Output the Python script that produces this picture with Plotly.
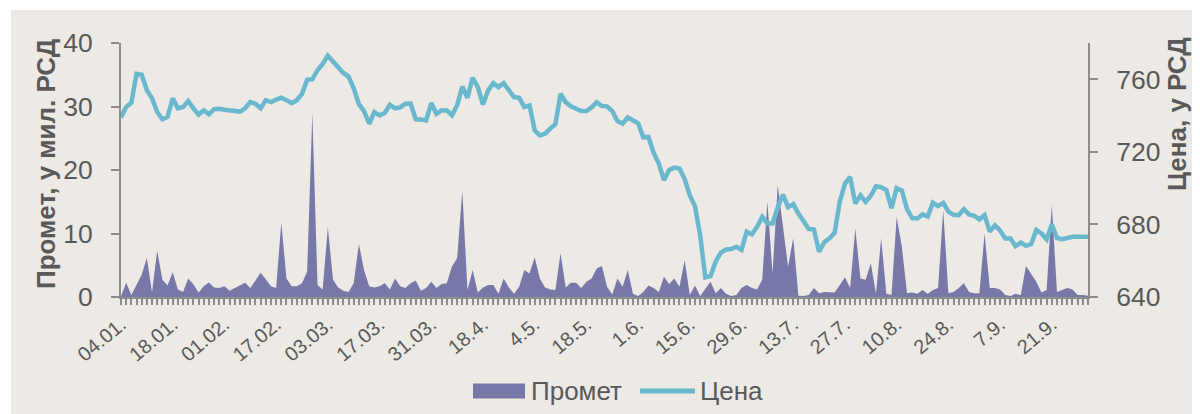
import plotly.graph_objects as go

# ---- data -------------------------------------------------------------
tick_labels = ["04.01.", "18.01.", "01.02.", "17.02.", "03.03.", "17.03.", "31.03.",
               "18.4.", "4.5.", "18.5.", "1.6.", "15.6.", "29.6.", "13.7.", "27.7.",
               "10.8.", "24.8.", "7.9.", "21.9."]

# Промет (turnover), mil. RSD
promet = [
    0.1, 2.25, 0.3, 1.8, 3.5, 6.2, 0.7, 7.3, 2.7, 1.8,
    3.9, 1.2, 0.8, 2.9, 2.0, 0.7, 1.7, 2.3, 1.5, 1.4,
    1.7, 1.0, 1.4, 1.9, 2.25, 1.4, 2.6, 3.8, 2.8, 1.7,
    1.4, 11.7, 2.9, 1.7, 1.7, 2.15, 4.0, 29.0, 1.9, 1.2,
    11.0, 2.7, 1.5, 1.0, 0.8, 2.15, 8.35, 4.25, 1.7, 1.5,
    1.7, 2.15, 1.2, 2.9, 1.7, 1.4, 2.15, 2.6, 1.0, 1.4,
    2.4, 1.4, 2.05, 2.15, 4.8, 6.1, 16.7, 1.1, 4.25, 0.7,
    1.5, 1.9, 1.9, 0.5, 2.9, 1.5, 0.5, 1.6, 4.25, 3.7,
    6.25, 2.9, 1.5, 1.2, 1.1, 6.9, 1.5, 2.25, 2.25, 1.4,
    2.4, 2.9, 4.5, 4.9, 1.6, 0.4, 2.9, 1.6, 4.25, 0.5,
    0.15, 0.8, 1.8, 1.4, 0.8, 3.2, 2.05, 2.9, 1.6, 5.8,
    0.3, 1.8, 0.15, 1.2, 2.4, 0.6, 1.4, 0.5, 0.15, 0.3,
    1.4, 1.9, 1.4, 1.2, 2.7, 15.0, 3.7, 17.6, 11.0, 4.8,
    9.25, 0.2, 0.15, 0.3, 1.4, 0.6, 0.8, 0.8, 0.7, 1.9,
    3.1, 1.4, 10.8, 2.9, 2.7, 5.3, 0.5, 9.25, 0.5, 0.3,
    12.6, 7.9, 0.6, 0.7, 0.5, 1.1, 0.5, 1.1, 1.4, 13.7,
    0.6, 0.8, 1.4, 2.15, 0.8, 0.6, 0.6, 10.0, 1.4, 1.4,
    1.2, 0.3, 0.15, 0.5, 0.3, 4.9, 3.7, 2.4, 0.7, 1.1,
    14.5, 0.8, 1.1, 1.4, 1.2, 0.3, 0.3, 0.2,
]

# Цена (price), RSD
cena = [
    739, 744.7, 747, 763, 762.5, 754, 749.5, 742, 738, 739.3,
    749.5, 744, 744.7, 748, 744, 740.5, 742.9, 740.7, 743.5, 743.8,
    743.2, 742.9, 742.3, 742.2, 744, 747.4, 746.5, 744, 748.5, 747.4,
    748.8, 749.8, 748.5, 746.9, 748.5, 752, 759.7, 760, 765, 768.5,
    773, 770, 766.5, 763.5, 761.5, 755, 746.3, 742.5, 735.5, 741.9,
    740.1, 741.4, 746, 744, 744.5, 746.5, 746.6, 738, 737.9, 737.3,
    746.9, 741, 742.9, 742.8, 740.1, 745.6, 756, 749.8, 760.8, 755.7,
    746.1, 753.9, 757.9, 755.7, 757.9, 754.2, 750.2, 749.8, 744.7, 745.6,
    731.9, 729.1, 730, 732.8, 735.2, 752, 747.4, 745.1, 743.8, 742.5,
    742.5, 744.5, 747.4, 745.3, 745.1, 742.5, 737, 735.5, 739, 737.5,
    735.8, 728, 728.2, 719.5, 713.5, 704.4, 710, 711.3, 710.8, 705,
    696, 690, 674, 650.8, 651.5, 659.5, 664.5, 666.2, 666.4, 667.7,
    666, 676, 674.5, 678.7, 684.2, 680.5, 680.5, 689.5, 696.5, 689.5,
    691.2, 686, 681.5, 677.5, 677.2, 665, 670.2, 672.3, 675.4, 692.5,
    702.5, 706.2, 691.5, 696, 692.4, 695.8, 701, 700.5, 699, 689,
    700, 698.7, 688.5, 683.5, 683.3, 685.5, 684.3, 692, 690.1, 691.9,
    687, 685.3, 685.1, 688.5, 685.5, 684.8, 682.8, 685.1, 676, 679.5,
    676.7, 672.3, 672.3, 668, 670, 668.2, 669.1, 676.9, 675, 671.8,
    680, 672.5, 671.9, 672.8, 673.2, 673.2, 673.2, 673.2,
]

series_names = ["Промет", "Цена"]
axis_titles = ["Промет, у мил. РСД", "Цена, у РСД"]

x = list(range(len(cena)))
tick_positions = x[::10][:len(tick_labels)]

# ---- styling -----------------------------------------------------------
PAGE = 8                      # default body margin of the html page
W, H = 1200 - PAGE, 414 - PAGE
ML, MR, MT, MB = 121 - PAGE, 112, 43 - PAGE, 117
PW, PH = W - ML - MR, H - MT - MB
BG = "#EDE9E5"
AREA = "#7778A8"
LINE = "#69B8CE"
AXIS = "#8C8C8C"
TXT = "#595959"
FONT = "Arial, Liberation Sans, sans-serif"


def px_x(px):
    """screen pixel x -> paper coordinate"""
    return (px - PAGE - ML) / PW


def px_y(py):
    """screen pixel y -> paper coordinate"""
    return (MT + PH - (py - PAGE)) / PH


fig = go.Figure()
fig.add_trace(go.Scatter(
    x=x, y=promet, name=series_names[0], mode="lines", fill="tozeroy",
    line=dict(width=0, color=AREA), fillcolor=AREA, yaxis="y",
    showlegend=False,
))
fig.add_trace(go.Scatter(
    x=x, y=cena, name=series_names[1], mode="lines",
    line=dict(width=4.5, color=LINE), yaxis="y2",
    showlegend=False,
))

# beige chart-area background (leaves a thin white strip top/left)
fig.add_shape(type="rect", xref="paper", yref="paper", layer="below",
              x0=px_x(11), x1=px_x(1200), y0=px_y(414), y1=px_y(10),
              fillcolor=BG, line=dict(width=0))

# legend (swatches + labels, bottom centre)
LEG_Y = 391
fig.add_shape(type="rect", xref="paper", yref="paper",
              x0=px_x(473), x1=px_x(525), y0=px_y(LEG_Y + 7.5), y1=px_y(LEG_Y - 7.5),
              fillcolor=AREA, line=dict(width=0))
fig.add_shape(type="line", xref="paper", yref="paper",
              x0=px_x(640), x1=px_x(695), y0=px_y(LEG_Y), y1=px_y(LEG_Y),
              line=dict(color=LINE, width=5))
fig.add_annotation(xref="paper", yref="paper", x=px_x(529), y=px_y(LEG_Y),
                   text=series_names[0], showarrow=False, xanchor="left",
                   yanchor="middle", font=dict(size=26, color=TXT))
fig.add_annotation(xref="paper", yref="paper", x=px_x(698), y=px_y(LEG_Y),
                   text=series_names[1], showarrow=False, xanchor="left",
                   yanchor="middle", font=dict(size=26, color=TXT))

# axis titles
fig.add_annotation(xref="paper", yref="paper", x=px_x(46), y=px_y(164),
                   text="<b>" + axis_titles[0] + "</b>", showarrow=False,
                   textangle=-90, xanchor="center", yanchor="middle",
                   font=dict(size=26, color=TXT))
fig.add_annotation(xref="paper", yref="paper", x=px_x(1177), y=px_y(114),
                   text="<b>" + axis_titles[1] + "</b>", showarrow=False,
                   textangle=-90, xanchor="center", yanchor="middle",
                   font=dict(size=26, color=TXT))

fig.update_layout(
    width=W, height=H,
    margin=dict(l=ML, r=MR, t=MT, b=MB, pad=0),
    paper_bgcolor="white", plot_bgcolor="rgba(0,0,0,0)",
    font=dict(family=FONT, color=TXT),
    showlegend=False,
    xaxis=dict(
        range=[0, len(x) - 1], showgrid=False, zeroline=False, automargin=False,
        showline=True, linecolor=AXIS, linewidth=2,
        tickmode="array", tickvals=tick_positions, ticktext=tick_labels,
        tickangle=-40, tickfont=dict(size=20, color=TXT),
        ticks="outside", ticklen=6, tickwidth=1.5, tickcolor=AXIS,
        minor=dict(ticks="outside", dtick=1, tick0=0, ticklen=6,
                   tickwidth=1.5, tickcolor=AXIS, showgrid=False),
    ),
    yaxis=dict(
        range=[0, 40], dtick=10, showgrid=False, zeroline=False, automargin=False,
        showline=True, linecolor=AXIS, linewidth=2,
        ticks="outside", ticklen=8, tickwidth=2, tickcolor=AXIS,
        tickfont=dict(size=26.5, color=TXT), ticklabelstandoff=13,
    ),
    yaxis2=dict(
        range=[640, 780], tickvals=[640, 680, 720, 760], overlaying="y",
        side="right", showgrid=False, zeroline=False, automargin=False,
        showline=True, linecolor=AXIS, linewidth=2,
        ticks="outside", ticklen=8, tickwidth=2, tickcolor=AXIS,
        tickfont=dict(size=26.5, color=TXT), ticklabelstandoff=13,
    ),
)

fig.write_html("out.html")
